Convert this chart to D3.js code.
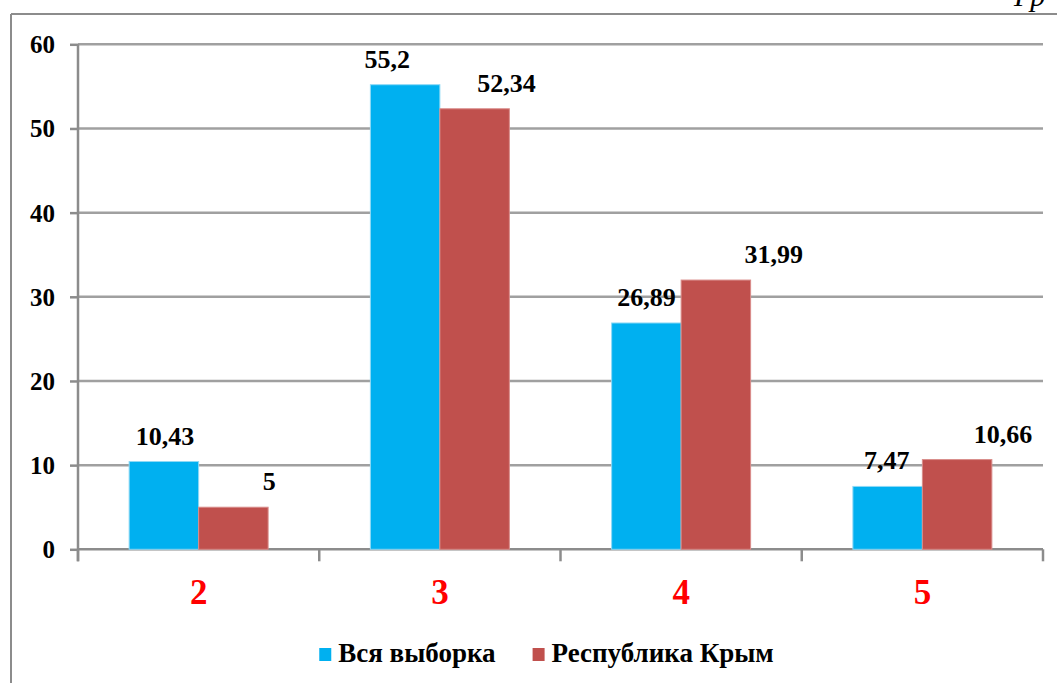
<!DOCTYPE html>
<html>
<head>
<meta charset="utf-8">
<script src="https://cdn.jsdelivr.net/npm/d3@7"></script>
<style>
  html, body { margin: 0; padding: 0; background: #fff; }
  svg { display: block; }
</style>
</head>
<body>
<svg id="chart" width="1057" height="683"></svg>
<script>
// ---- data ----
const categories = ["2", "3", "4", "5"];
const seriesNames = ["Вся выборка", "Республика Крым"];
const allSample = [10.43, 55.2, 26.89, 7.47];
const crimea = [5, 52.34, 31.99, 10.66];
const yTicks = [0, 10, 20, 30, 40, 50, 60];
const cornerText = "Гр";

// ---- layout / style ----
const W = 1057, H = 683;
const plot = { left: 78, right: 1043, top: 44.3, bottom: 549.3 };
const colors = ["#00B0F0", "#C0504D"];
const strokes = ["#8fd9f5", "#d98c8a"];
const labelNudge = [[1, -18, 0, -1], [36, 32, 58, 46]];
const gridColor = "#a0a0a0";
const SERIF = "Liberation Serif";

const svg = d3.select("#chart");

// outer frame (partially visible)
svg.append("line").attr("x1", 11).attr("x2", 11).attr("y1", 14).attr("y2", H)
  .attr("stroke", "#8c8c8c").attr("stroke-width", 2);
svg.append("line").attr("x1", 11).attr("x2", W).attr("y1", 14).attr("y2", 14)
  .attr("stroke", "#8c8c8c").attr("stroke-width", 2);
svg.append("text").attr("x", 1014).attr("y", 6)
  .attr("font-family", SERIF).attr("font-style", "italic").attr("font-size", 30)
  .attr("fill", "#000").text(cornerText);

// scales
const x0 = d3.scaleBand().domain(categories).range([plot.left, plot.right]).paddingInner(0).paddingOuter(0);
const x1 = d3.scaleBand().domain([0, 1]).range([0, x0.bandwidth()]).paddingInner(0).paddingOuter(0.736);
const y = d3.scaleLinear().domain([0, 60]).range([plot.bottom, plot.top]);

// gridlines
svg.append("g").selectAll("line").data(yTicks.filter(d => d > 0)).join("line")
  .attr("x1", plot.left).attr("x2", plot.right)
  .attr("y1", d => y(d)).attr("y2", d => y(d))
  .attr("stroke", gridColor).attr("stroke-width", 2.5);

// y axis
const yAxis = d3.axisLeft(y).tickValues(yTicks).tickSize(8).tickPadding(15).tickFormat(d3.format("d"));
const gy = svg.append("g").attr("transform", `translate(${plot.left},0)`).call(yAxis)
  .attr("font-family", SERIF).attr("font-size", 25).attr("font-weight", "bold");
gy.select(".domain").attr("stroke", "#8c8c8c").attr("stroke-width", 2.5)
  .attr("d", `M0,${plot.top}V${plot.bottom + 12}`);
gy.selectAll(".tick line").attr("stroke", "#8c8c8c").attr("stroke-width", 2.5);
gy.selectAll(".tick text").attr("fill", "#000").attr("dy", "0.34em");

// x axis
const xAxis = d3.axisBottom(x0).tickSize(0).tickPadding(0);
const gx = svg.append("g").attr("transform", `translate(0,${plot.bottom})`).call(xAxis)
  .attr("font-family", SERIF).attr("font-size", 35).attr("font-weight", "bold");
gx.select(".domain").attr("stroke", "#8c8c8c").attr("stroke-width", 2.5)
  .attr("d", `M${plot.left},0H${plot.right}`);
gx.selectAll(".tick text").attr("fill", "#ff0000").attr("dy", null).attr("y", 55);
// boundary tick marks
const bounds = categories.map(c => x0(c)).concat([plot.right]);
gx.append("g").selectAll("line").data(bounds).join("line")
  .attr("x1", d => d).attr("x2", d => d).attr("y1", 0).attr("y2", 12)
  .attr("stroke", "#8c8c8c").attr("stroke-width", 2.5);

// bars
const series = [allSample, crimea];
series.forEach((vals, si) => {
  const g = svg.append("g");
  g.selectAll("rect").data(vals).join("rect")
    .attr("x", (d, i) => x0(categories[i]) + x1(si))
    .attr("width", x1.bandwidth())
    .attr("y", d => y(d))
    .attr("height", d => y(0) - y(d))
    .attr("fill", colors[si])
    .attr("stroke", strokes[si]).attr("stroke-width", 1);
  g.selectAll("text").data(vals).join("text")
    .attr("x", (d, i) => x0(categories[i]) + x1(si) + x1.bandwidth() / 2 + labelNudge[si][i])
    .attr("y", d => y(d) - 17)
    .attr("text-anchor", "middle")
    .attr("font-family", SERIF).attr("font-weight", "bold").attr("font-size", 26)
    .attr("fill", "#000")
    .text(d => String(d).replace(".", ","));
});

// legend
const lg = svg.append("g");
let cx = 0;
seriesNames.forEach((name, i) => {
  const it = lg.append("g").attr("transform", `translate(${cx},0)`);
  it.append("rect").attr("x", 0).attr("y", -14).attr("width", 12).attr("height", 13)
    .attr("fill", colors[i]);
  const t = it.append("text").attr("x", 19).attr("y", 0)
    .attr("font-family", SERIF).attr("font-weight", "bold").attr("font-size", 27)
    .attr("fill", "#000").text(name);
  const w = t.node().getComputedTextLength();
  cx += 19 + w + 37;
});
const totalW = cx - 37;
lg.attr("transform", `translate(${546.5 - totalW / 2},662)`);
</script>
</body>
</html>
